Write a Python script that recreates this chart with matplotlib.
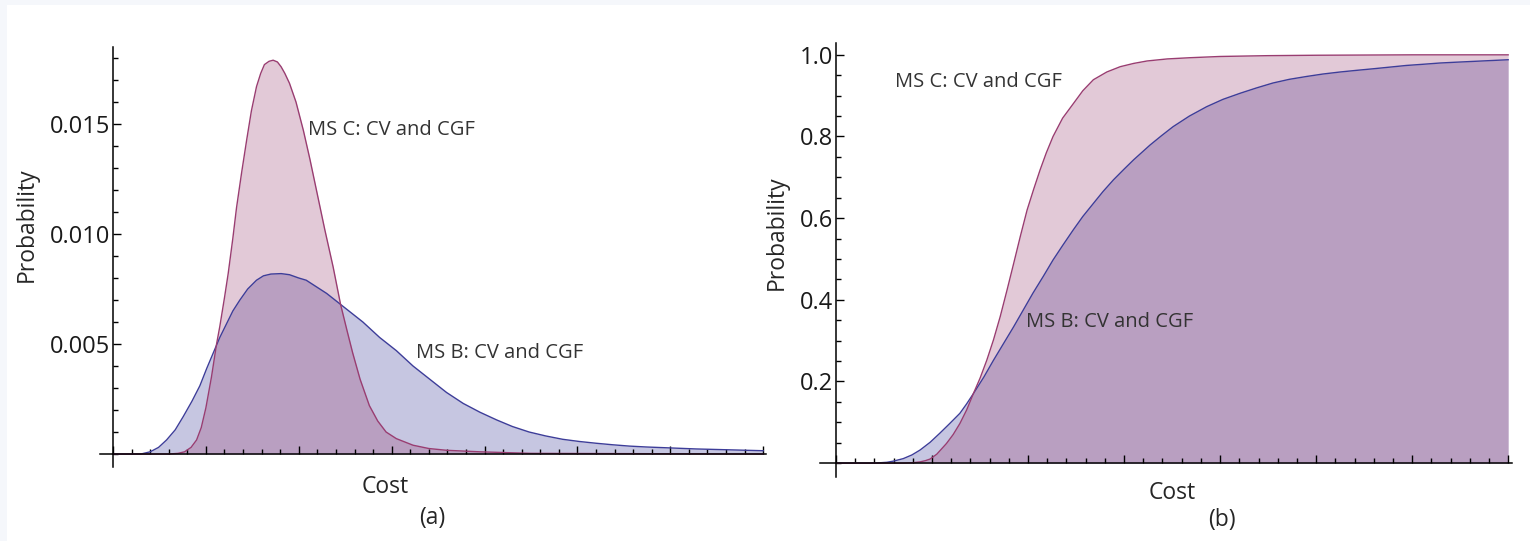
import numpy as np
import matplotlib
matplotlib.use("Agg")
import matplotlib.pyplot as plt
from matplotlib.ticker import MultipleLocator, FixedLocator, FixedFormatter
from matplotlib.patches import Rectangle

plt.rcParams['font.family'] = ['Open Sans', 'DejaVu Sans']

# (a) probability density
pdf_c_x = [0.0, 0.6, 0.70, 0.77, 0.84, 0.90, 0.95, 1.00, 1.06, 1.115, 1.15, 1.20, 1.24, 1.29,
           1.33, 1.385, 1.44, 1.49, 1.545, 1.59, 1.63, 1.68, 1.724, 1.77, 1.81, 1.85, 1.90,
           1.97, 2.05, 2.12, 2.19, 2.28, 2.37, 2.45, 2.52, 2.58, 2.66, 2.76, 2.85, 2.94,
           3.05, 3.23, 3.40, 3.59, 3.95, 4.5, 7.0]
pdf_c_y = [0.0, 0.0, 0.00003, 0.0001, 0.0003, 0.00064, 0.0012, 0.0021, 0.0035, 0.0050, 0.0058,
           0.0071, 0.0082, 0.0098, 0.0112, 0.0128, 0.0143, 0.0156, 0.0167, 0.0173, 0.0177,
           0.01785, 0.0179, 0.01782, 0.0176, 0.0173, 0.01685, 0.0160, 0.0147, 0.0134, 0.0120,
           0.0102, 0.0085, 0.0068, 0.0056, 0.0046, 0.0034, 0.0022, 0.0015, 0.0010, 0.0007,
           0.0004, 0.00025, 0.00017, 0.0001, 0.00003, 0.0]

pdf_b_x = [0.0, 0.3, 0.40, 0.49, 0.577, 0.67, 0.756, 0.85, 0.935, 1.01, 1.08, 1.15, 1.22,
           1.29, 1.366, 1.45, 1.545, 1.62, 1.70, 1.81, 1.90, 2.00, 2.08, 2.19, 2.30, 2.45,
           2.57, 2.69, 2.87, 3.05, 3.23, 3.41, 3.59, 3.77, 3.95, 4.13, 4.30, 4.48, 4.66,
           4.84, 5.02, 5.2, 5.38, 5.56, 5.74, 5.92, 6.1, 6.28, 6.46, 6.64, 6.82, 7.0]
pdf_b_y = [0.0, 0.0, 0.0001, 0.0003, 0.00064, 0.0011, 0.0017, 0.0024, 0.0031, 0.0039, 0.0046,
           0.0053, 0.0059, 0.0065, 0.0070, 0.0075, 0.0079, 0.0081, 0.00818, 0.0082, 0.00815,
           0.0080, 0.0079, 0.0076, 0.0073, 0.0068, 0.0064, 0.0060, 0.0053, 0.0047, 0.0040,
           0.0034, 0.0028, 0.0023, 0.0019, 0.00155, 0.00125, 0.0010, 0.00082, 0.00067,
           0.00057, 0.00049, 0.00042, 0.00036, 0.00032, 0.00029, 0.00026, 0.00023, 0.00021,
           0.00019, 0.00017, 0.00015]

# (b) cumulative probability
cdf_c_x = [0.0, 0.7, 0.80, 0.875, 0.93, 0.98, 1.05, 1.15, 1.22, 1.29, 1.36, 1.43, 1.50, 1.57,
           1.64, 1.71, 1.78, 1.85, 1.92, 1.99, 2.06, 2.125, 2.19, 2.26, 2.36, 2.47, 2.57,
           2.68, 2.82, 2.96, 3.10, 3.24, 3.45, 3.69, 4.0, 4.5, 5.0, 6.0, 7.0]
cdf_c_y = [0.0, 0.0, 0.001, 0.003, 0.006, 0.010, 0.022, 0.048, 0.070, 0.097, 0.130, 0.170,
           0.208, 0.252, 0.302, 0.359, 0.423, 0.489, 0.556, 0.620, 0.672, 0.718, 0.760, 0.800,
           0.845, 0.880, 0.912, 0.939, 0.958, 0.971, 0.979, 0.985, 0.990, 0.993, 0.996,
           0.998, 0.999, 1.0, 1.0]

cdf_b_x = [0.0, 0.4, 0.53, 0.6, 0.70, 0.79, 0.875, 0.98, 1.08, 1.18, 1.29, 1.36, 1.43, 1.54,
           1.64, 1.75, 1.85, 1.95, 2.05, 2.16, 2.26, 2.36, 2.47, 2.57, 2.68, 2.78, 2.89, 3.00,
           3.10, 3.27, 3.39, 3.51, 3.68, 3.86, 4.03, 4.21, 4.38, 4.55, 4.72, 4.90, 5.07, 5.25,
           5.42, 5.60, 5.77, 5.94, 6.12, 6.29, 6.46, 6.64, 6.82, 7.0]
cdf_b_y = [0.0, 0.0, 0.002, 0.005, 0.011, 0.020, 0.032, 0.051, 0.073, 0.096, 0.122, 0.145,
           0.170, 0.211, 0.252, 0.295, 0.334, 0.375, 0.416, 0.458, 0.4975, 0.533, 0.571,
           0.604, 0.636, 0.665, 0.694, 0.720, 0.743, 0.779, 0.802, 0.824, 0.850, 0.873,
           0.891, 0.906, 0.919, 0.931, 0.940, 0.947, 0.953, 0.958, 0.962, 0.966, 0.970,
           0.974, 0.977, 0.980, 0.982, 0.984, 0.986, 0.988]

label_c = "MS C: CV and CGF"
label_b = "MS B: CV and CGF"

blue = (0.24, 0.24, 0.6)
red = (0.6, 0.24, 0.442)

W, H = 1530, 541
fig = plt.figure(figsize=(W / 100, H / 100), dpi=100)
fig.patch.set_facecolor("#f5f7fb")
fig.patches.append(Rectangle((7 / W, 0), 1, 1 - 5 / H, transform=fig.transFigure,
                             facecolor="white", edgecolor="none", zorder=-10))


def style(ax):
    ax.set_facecolor("none")
    for s in ["top", "right"]:
        ax.spines[s].set_visible(False)
    for s in ["left", "bottom"]:
        ax.spines[s].set_position(("data", 0))
        ax.spines[s].set_linewidth(1.1)
    ax.xaxis.set_major_locator(MultipleLocator(1))
    ax.xaxis.set_minor_locator(MultipleLocator(0.2))
    ax.tick_params(which="both", direction="in", top=False, right=False,
                   labelbottom=False, width=1.0, labelsize=17, pad=2, labelcolor="#1a1a1a")
    ax.tick_params(which="major", length=6)
    ax.tick_params(which="minor", length=3.5)


def draw(ax, xs_b, ys_b, xs_c, ys_c):
    ax.fill_between(xs_b, ys_b, 0, color=blue, alpha=0.29, lw=0)
    ax.fill_between(xs_c, ys_c, 0, color=red, alpha=0.28, lw=0)
    ax.plot(xs_b, ys_b, color=blue, lw=1.0)
    ax.plot(xs_c, ys_c, color=red, lw=1.0)


# left panel
ax1 = fig.add_axes([100 / W, 1 - 467 / H, 666 / W, 420 / H])
style(ax1)
draw(ax1, pdf_b_x, pdf_b_y, pdf_c_x, pdf_c_y)
ax1.set_xlim(-0.14, 7.03)
ax1.set_ylim(-0.00059, 0.0185)
ax1.yaxis.set_major_locator(FixedLocator([0.005, 0.010, 0.015]))
ax1.yaxis.set_major_formatter(FixedFormatter(["0.005", "0.010", "0.015"]))
ax1.yaxis.set_minor_locator(MultipleLocator(0.001))
ax1.text(2.10, 0.01473, label_c, fontsize=14.5, color="#333333", va="center")
ax1.text(3.26, 0.00459, label_b, fontsize=14.5, color="#333333", va="center")

# right panel
ax2 = fig.add_axes([820 / W, 1 - 477 / H, 692 / W, 434 / H])
style(ax2)
draw(ax2, cdf_b_x, cdf_b_y, cdf_c_x, cdf_c_y)
ax2.set_xlim(-0.167, 7.04)
ax2.set_ylim(-0.034, 1.029)
ax2.yaxis.set_major_locator(FixedLocator([0.2, 0.4, 0.6, 0.8, 1.0]))
ax2.yaxis.set_major_formatter(FixedFormatter(["0.2", "0.4", "0.6", "0.8", "1.0"]))
ax2.yaxis.set_minor_locator(MultipleLocator(0.05))
ax2.text(0.615, 0.934, label_c, fontsize=14.5, color="#333333", va="center")
ax2.text(1.98, 0.346, label_b, fontsize=14.5, color="#333333", va="center")

# axis labels and panel tags
def ftext(px, py, s, **kw):
    fig.text(px / W, 1 - py / H, s, ha="center", va="center", fontsize=16.5,
             color="#262626", **kw)

ftext(27, 225, "Probability", rotation=90)
ftext(385, 487, "Cost")
ftext(432, 518, "(a)")
ftext(777, 233, "Probability", rotation=90)
ftext(1172, 493, "Cost")
ftext(1222, 520, "(b)")

fig.savefig("out.png", dpi=100, facecolor=fig.get_facecolor())
